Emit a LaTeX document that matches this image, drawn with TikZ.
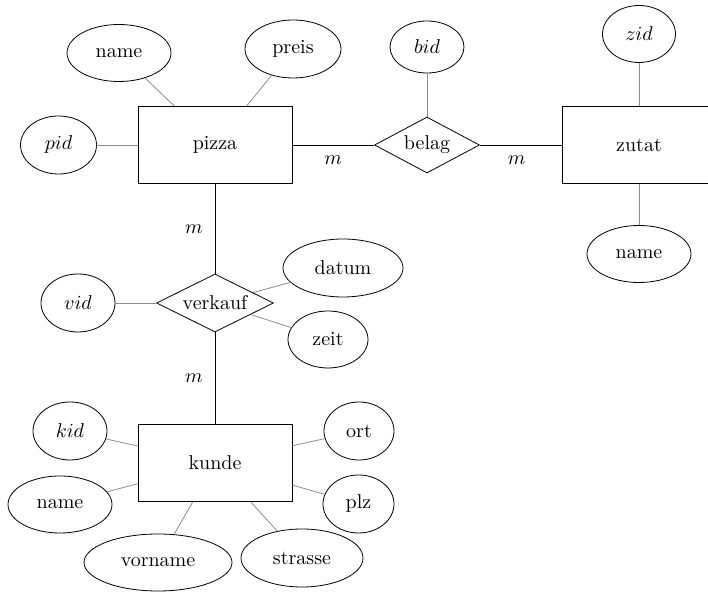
\documentclass[tikz,border=0pt]{standalone}
\usetikzlibrary{shapes.geometric}
\begin{document}
\begin{tikzpicture}[x=0.5pt,y=-0.5pt,
  entity/.style={draw,rectangle,minimum width=77pt,minimum height=38.5pt,inner sep=0pt},
  rel/.style={draw,diamond,aspect=2,inner sep=0pt},
  attr/.style={draw,ellipse,inner sep=0pt,minimum height=28.5pt},
  attrline/.style={draw=black!45},
  relline/.style={draw=black},
  card/.style={inner sep=0pt,font=\normalsize}
]
\useasboundingbox (0,0) rectangle (708,592);
\clip (0,0) rectangle (708,592);

% entities
\node[entity] (pizza) at (215,145) {pizza};
\node[entity] (zutat) at (639,145) {zutat};
\node[entity] (kunde) at (215,463) {kunde};

% relationships
\node[rel,minimum width=52.5pt,minimum height=28pt] (belag) at (427,145) {belag};
\node[rel,minimum width=58.5pt,minimum height=29pt] (verkauf) at (215,303) {verkauf};

% attributes
\node[attr,minimum width=52pt] (pname) at (119,53) {name};
\node[attr,minimum width=48pt,minimum height=29pt] (preis) at (293,49) {preis};
\node[attr,minimum width=38pt,minimum height=29pt] (pid) at (58.5,145) {$pid$};
\node[attr,minimum width=37pt,minimum height=26pt] (bid) at (427,47) {$bid$};
\node[attr,minimum width=36.5pt] (zid) at (639,34) {$zid$};
\node[attr,minimum width=52pt] (zname) at (639,254) {name};
\node[attr,minimum width=37pt,minimum height=29pt] (vid) at (78,303) {$vid$};
\node[attr,minimum width=60pt,minimum height=29pt] (datum) at (343,268) {datum};
\node[attr,minimum width=40pt] (zeit) at (328,339.5) {zeit};
\node[attr,minimum width=37pt,minimum height=29pt] (kid) at (70,431) {$kid$};
\node[attr,minimum width=52pt] (kname) at (60,504.5) {name};
\node[attr,minimum width=74pt] (vorname) at (158,562.5) {vorname};
\node[attr,minimum width=61pt,minimum height=29pt] (strasse) at (302,558) {strasse};
\node[attr,minimum width=35pt,minimum height=29pt] (ort) at (359,431) {ort};
\node[attr,minimum width=35.5pt,minimum height=29pt] (plz) at (358.5,504) {plz};

% attribute connectors
\draw[attrline] (pname) -- (pizza);
\draw[attrline] (preis) -- (pizza);
\draw[attrline] (pid) -- (pizza);
\draw[attrline] (bid) -- (belag);
\draw[attrline] (zid) -- (zutat);
\draw[attrline] (zname) -- (zutat);
\draw[attrline] (vid) -- (verkauf);
\draw[attrline] (datum) -- (verkauf);
\draw[attrline] (zeit) -- (verkauf);
\draw[attrline] (kid) -- (kunde);
\draw[attrline] (kname) -- (kunde);
\draw[attrline] (vorname) -- (kunde);
\draw[attrline] (strasse) -- (kunde);
\draw[attrline] (ort) -- (kunde);
\draw[attrline] (plz) -- (kunde);

% relationship connectors
\draw[relline] (pizza) -- node[card,midway,below=5pt] (m1) {$m$} (belag);
\draw[relline] (belag) -- node[card,midway,below=5pt,xshift=-2pt] (m2) {$m$} (zutat);
\draw[relline] (pizza) -- node[card,midway,left=6pt] (m3) {$m$} (verkauf);
\draw[relline] (verkauf) -- node[card,midway,left=6pt] (m4) {$m$} (kunde);
\end{tikzpicture}
\end{document}
